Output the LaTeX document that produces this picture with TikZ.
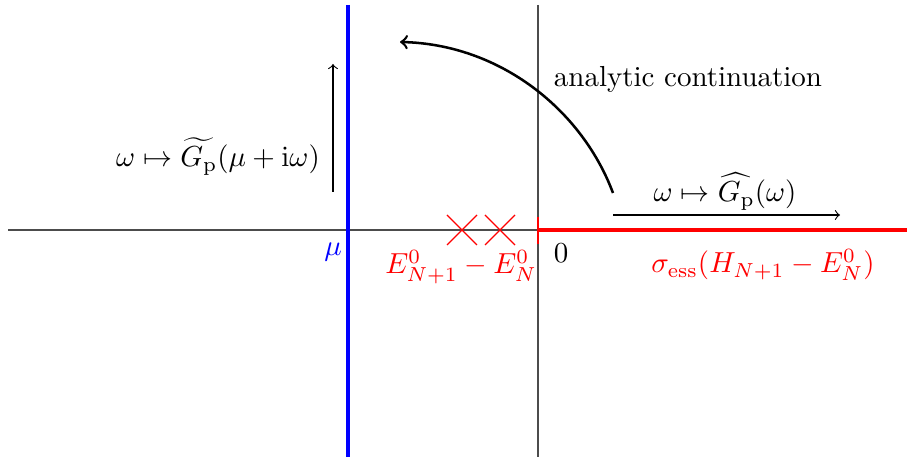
\documentclass[tikz,border=0pt]{standalone}
\usepackage{amsmath}
\begin{document}
\begin{tikzpicture}[x=0.0125cm,y=-0.0125cm,
  every node/.style={scale=1.03},
  axis/.style={black!70,line width=0.4pt},
  spec/.style={red,line width=1.2pt},
  crossmark/.style={red,line width=0.4pt},
  lbl/.style={inner sep=0,anchor=base}]
\useasboundingbox (0,0) rectangle (907,459);
% axes
\draw[axis] (8,230) -- (907,230);
\draw[axis] (538,5) -- (538,457);
% blue line
\draw[blue,line width=1.2pt] (348,5) -- (348,457);
% essential spectrum
\draw[spec] (538,230) -- (907,230);
\draw[red,line width=0.8pt] (538,217) -- (538,244);
% crosses
\foreach \cx in {462,500}{
  \draw[crossmark] (\cx-15,215) -- (\cx+15,245);
  \draw[crossmark] (\cx-15,245) -- (\cx+15,215);
}
% labels
\node[lbl,blue] (mu) at (333,256) {$\mu$};
\node[lbl] (zero) at (561,263) {$0$};
\node[lbl,red] (eig) at (461,274) {$E^0_{N+1}-E^0_N$};
\node[lbl,red] (ess) at (763,273) {$\sigma_{\mathrm{ess}}(H_{N+1}-E^0_N)$};
\node[lbl] (ac) at (688,87) {analytic continuation};
% horizontal map
\coordinate (h1) at (613,215);
\coordinate (h2) at (840,215);
\draw[->,line width=0.4pt] (h1) -- (h2);
\node[lbl] (hat) at (725,202) {$\omega\mapsto\widehat{G_{\mathrm{p}}}(\omega)$};
% vertical map
\coordinate (v1) at (333,192);
\coordinate (v2) at (333,64);
\draw[->,line width=0.4pt] (v1) -- (v2);
\node[lbl] (tilde) at (218,167) {$\omega\mapsto\widetilde{G_{\mathrm{p}}}(\mu+\mathrm{i}\omega)$};
% analytic continuation arrow
\coordinate (c1) at (613,193);
\coordinate (c2) at (400,42);
\draw[->,line width=0.9pt] (c1) .. controls (582,110) and (500,44) .. (c2);
\end{tikzpicture}
\end{document}
